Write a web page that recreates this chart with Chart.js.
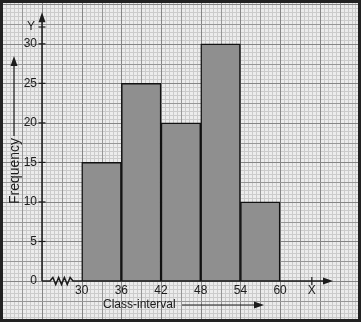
<!DOCTYPE html>
<html lang="en">
<head>
    <meta charset="UTF-8">
    <title>Histogram</title>
    <script src="https://cdn.jsdelivr.net/npm/chart.js"></script>
    <style>
        body { margin: 0; padding: 0; background: #ececec; }
        #wrap { width: 361px; height: 322px; }
    </style>
</head>
<body>
<div id="wrap"><canvas id="histogram"></canvas></div>

<script>
    // class limits (x tick labels) and frequency per class
    const classLimits = [30, 36, 42, 48, 54, 60];
    const frequencies = [15, 25, 20, 30, 10];
    const yTicks = [0, 5, 10, 15, 20, 25, 30];

    const ink = '#1c1c1c';
    const fontFamily = '"Liberation Sans", Arial, sans-serif';

    // bars sit at the middle of each class
    const points = frequencies.map((f, i) => ({ x: (classLimits[i] + classLimits[i + 1]) / 2, y: f }));

    function arrowHead(ctx, x, y, dir) {
        // dir: 'up' or 'right'
        ctx.beginPath();
        if (dir === 'up') {
            ctx.moveTo(x, y);
            ctx.lineTo(x - 3.5, y + 10);
            ctx.lineTo(x + 3.5, y + 10);
        } else {
            ctx.moveTo(x, y);
            ctx.lineTo(x - 10, y - 3.5);
            ctx.lineTo(x - 10, y + 3.5);
        }
        ctx.closePath();
        ctx.fill();
    }

    // graph paper behind everything
    const graphPaper = {
        id: 'graphPaper',
        beforeDraw(chart) {
            const { ctx, width, height } = chart;
            const xs = chart.scales.x, ys = chart.scales.y;
            const x0 = xs.getPixelForValue(24), y0 = ys.getPixelForValue(0);
            const dx = (xs.getPixelForValue(30) - x0) / 10;
            const dy = (y0 - ys.getPixelForValue(5)) / 10;
            ctx.save();
            ctx.fillStyle = '#ececec';
            ctx.fillRect(0, 0, width, height);
            ctx.lineWidth = 1;
            const styleFor = k => k % 10 === 0 ? '#858585' : (k % 5 === 0 ? '#979797' : '#cbcbcb');
            // minor first, then heavier ones on top
            for (const pass of [0, 1]) {
                for (let k = -Math.ceil(x0 / dx); x0 + k * dx < width; k++) {
                    const heavy = k % 5 === 0;
                    if ((pass === 1) !== heavy) continue;
                    const px = Math.round(x0 + k * dx) + 0.5;
                    ctx.strokeStyle = styleFor(k);
                    ctx.beginPath(); ctx.moveTo(px, 0); ctx.lineTo(px, height); ctx.stroke();
                }
                for (let k = -Math.ceil((height - y0) / dy); y0 - k * dy > 0; k++) {
                    const heavy = k % 5 === 0;
                    if ((pass === 1) !== heavy) continue;
                    const py = Math.round(y0 - k * dy) + 0.5;
                    ctx.strokeStyle = styleFor(k);
                    ctx.beginPath(); ctx.moveTo(0, py); ctx.lineTo(width, py); ctx.stroke();
                }
            }
            ctx.restore();
        },
        afterDraw(chart) {
            const { ctx, width, height, chartArea } = chart;
            const xs = chart.scales.x, ys = chart.scales.y;
            const ox = xs.getPixelForValue(24), oy = ys.getPixelForValue(0);
            ctx.save();
            ctx.strokeStyle = ink;
            ctx.fillStyle = ink;
            ctx.lineWidth = 1.5;

            // y axis with arrow
            ctx.beginPath(); ctx.moveTo(ox, oy); ctx.lineTo(ox, chartArea.top + 4); ctx.stroke();
            arrowHead(ctx, ox, chartArea.top, 'up');

            // x axis with break (zigzag) and arrow
            const zs = ox + 8, ze = ox + 31;
            ctx.beginPath();
            ctx.moveTo(ox, oy); ctx.lineTo(zs, oy);
            const n = 8;
            for (let i = 1; i <= n; i++) {
                const zx = zs + (ze - zs) * i / n;
                const zy = i === n ? oy : oy + (i % 2 ? -3.5 : 3.5);
                ctx.lineTo(zx, zy);
            }
            ctx.lineTo(chartArea.right - 4, oy);
            ctx.stroke();
            arrowHead(ctx, chartArea.right, oy, 'right');

            // tick marks across the y axis
            ctx.lineWidth = 1.2;
            yTicks.forEach(v => {
                const py = ys.getPixelForValue(v);
                if (v === 0) return;
                ctx.beginPath(); ctx.moveTo(ox - 3.5, py); ctx.lineTo(ox + 3.5, py); ctx.stroke();
            });
            // Y / X axis name marks
            ctx.beginPath(); ctx.moveTo(ox - 3.5, 27); ctx.lineTo(ox + 3.5, 27); ctx.stroke();
            const xMark = xs.getPixelForValue(64.8);
            ctx.beginPath(); ctx.moveTo(xMark, oy - 4); ctx.lineTo(xMark, oy + 4); ctx.stroke();

            ctx.font = '12px ' + fontFamily;
            ctx.textAlign = 'center';
            ctx.textBaseline = 'middle';
            ctx.fillText('Y', 31, 27);
            ctx.fillText('X', xMark, 291);

            // x title with arrow
            ctx.textAlign = 'left';
            ctx.fillText('Class-interval', 103, 305);
            ctx.lineWidth = 1.2;
            ctx.beginPath(); ctx.moveTo(182, 305); ctx.lineTo(256, 305); ctx.stroke();
            arrowHead(ctx, 264, 305, 'right');

            // y title with arrow
            ctx.save();
            ctx.translate(15, 171);
            ctx.rotate(-Math.PI / 2);
            ctx.font = '14px ' + fontFamily;
            ctx.textAlign = 'center';
            ctx.fillText('Frequency', 0, 0);
            ctx.restore();
            ctx.beginPath(); ctx.moveTo(14, 136); ctx.lineTo(14, 64); ctx.stroke();
            arrowHead(ctx, 14, 56, 'up');

            // dark frame round the picture
            ctx.lineWidth = 3;
            ctx.strokeStyle = '#222';
            ctx.strokeRect(1.5, 1.5, width - 3, height - 3);
            ctx.restore();
        }
    };

    const ctx = document.getElementById('histogram').getContext('2d');
    const histogram = new Chart(ctx, {
        type: 'bar',
        data: {
            datasets: [{
                label: 'Frequency',
                data: points,
                backgroundColor: '#8f8f8f',
                borderColor: '#111',
                borderWidth: 1.5,
                barPercentage: 1,
                categoryPercentage: 1
            }]
        },
        options: {
            responsive: true,
            maintainAspectRatio: false,
            animation: false,
            layout: { padding: { top: 11, right: 28, left: 0, bottom: 0 } },
            plugins: {
                legend: { display: false },
                tooltip: { enabled: false }
            },
            scales: {
                x: {
                    type: 'linear',
                    min: 24,
                    max: 68,
                    offset: false,
                    grid: { display: false, drawTicks: false },
                    border: { display: false },
                    afterBuildTicks: s => { s.ticks = classLimits.map(v => ({ value: v })); },
                    afterFit: s => { s.height = 41; },
                    ticks: {
                        autoSkip: false,
                        maxRotation: 0,
                        padding: 2,
                        color: ink,
                        font: { family: fontFamily, size: 12 }
                    }
                },
                y: {
                    min: 0,
                    max: 34,
                    grid: { display: false, drawTicks: false },
                    border: { display: false },
                    afterBuildTicks: s => { s.ticks = yTicks.map(v => ({ value: v })); },
                    afterFit: s => { s.width = 42; },
                    ticks: {
                        padding: 5,
                        color: ink,
                        font: { family: fontFamily, size: 12 }
                    }
                }
            }
        },
        plugins: [graphPaper]
    });
</script>
</body>
</html>
